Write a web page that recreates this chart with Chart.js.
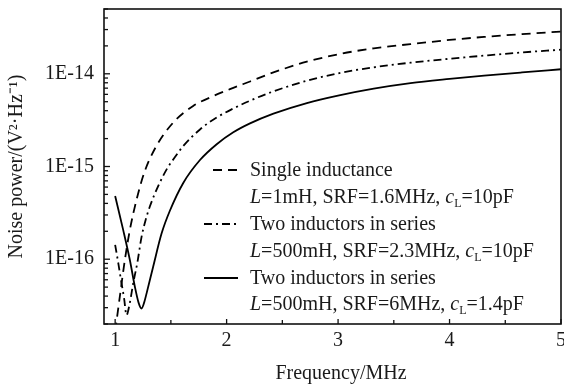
<!DOCTYPE html>
<html>
<head>
<meta charset="utf-8">
<script src="https://cdn.jsdelivr.net/npm/chart.js@4.4.1/dist/chart.umd.min.js"></script>
<style>
  html, body { margin: 0; padding: 0; background: #fff; overflow: hidden; }
  #wrap { width: 564px; height: 385px; position: relative; }
</style>
</head>
<body>
<div id="wrap"><canvas id="c"></canvas></div>
<script>
// ---------- data ----------
const freqSingle  = [1.0, 1.042, 1.087, 1.132, 1.192, 1.26, 1.36, 1.52, 1.70, 1.88, 2.06, 2.21, 2.42, 2.72, 3.02, 3.32, 3.65, 4.0, 4.31, 4.65, 5.0];
const noiseSingle = [1.66e-17, 3.94e-17, 9.8e-17, 2.07e-16, 4.38e-16, 8.5e-16, 1.585e-15, 2.97e-15, 4.5e-15, 5.75e-15, 7.05e-15, 8.26e-15, 1.035e-14, 1.35e-14, 1.64e-14, 1.884e-14, 2.09e-14, 2.317e-14, 2.5e-14, 2.68e-14, 2.85e-14];

const freqSeries23  = [1.0, 1.03, 1.05, 1.08, 1.102, 1.13, 1.162, 1.2, 1.237, 1.275, 1.312, 1.385, 1.462, 1.54, 1.611, 1.761, 1.911, 2.06, 2.21, 2.42, 2.72, 3.02, 3.32, 3.65, 4.0, 4.31, 4.65, 5.0];
const noiseSeries23 = [1.43e-16, 8.8e-17, 6.2e-17, 3.8e-17, 2.5e-17, 3.3e-17, 5.5e-17, 9.3e-17, 1.74e-16, 2.69e-16, 3.72e-16, 6.1e-16, 9.3e-16, 1.28e-15, 1.66e-15, 2.51e-15, 3.38e-15, 4.22e-15, 5.13e-15, 6.46e-15, 8.41e-15, 1.023e-14, 1.175e-14, 1.318e-14, 1.452e-14, 1.57e-14, 1.70e-14, 1.82e-14];

const freqSeries6  = [1.0, 1.072, 1.132, 1.177, 1.21, 1.237, 1.26, 1.282, 1.341, 1.417, 1.49, 1.611, 1.761, 1.911, 2.06, 2.21, 2.42, 2.72, 3.02, 3.32, 3.65, 4.0, 4.31, 4.65, 5.0];
const noiseSeries6 = [4.8e-16, 2.07e-16, 9.8e-17, 5.05e-17, 3.4e-17, 2.94e-17, 3.4e-17, 4.28e-17, 8.3e-17, 1.9e-16, 3.31e-16, 6.65e-16, 1.175e-15, 1.74e-15, 2.34e-15, 2.92e-15, 3.72e-15, 4.84e-15, 5.89e-15, 6.92e-15, 7.94e-15, 8.81e-15, 9.55e-15, 1.035e-14, 1.12e-14];

const xTickValues = [1, 1.5, 2, 2.5, 3, 3.5, 4, 4.5, 5];
const xTickLabels = ['1', '', '2', '', '3', '', '4', '', '5'];
const yMajorTicks = [1e-16, 1e-15, 1e-14];
const yTickLabels = ['1E-16', '1E-15', '1E-14'];

const xTitle = 'Frequency/MHz';
const yTitle = 'Noise power/(V\u00B2\u00B7Hz\u207B\u00B9)';

const legendNames  = ['Single inductance', 'Two inductors in series', 'Two inductors in series'];
const legendL      = ['1mH', '500mH', '500mH'];
const legendSRF    = ['1.6MHz', '2.3MHz', '6MHz'];
const legendC      = ['10pF', '10pF', '1.4pF'];

// ---------- derived ----------
const yTickValues = [];
for (let e = -17; e <= -14; e++) {
  for (let m = 1; m <= 9; m++) {
    const v = parseFloat(m + 'e' + e);
    if (v >= 2e-17 && v <= 5e-14) yTickValues.push(v);
  }
}

const FONT = '"Liberation Serif", "Times New Roman", serif';
const TXT = '#1a1a1a';
const DASH = [9, 6];
const DASHDOT = [8, 4, 2, 4];

const toPts = (xs, ys) => xs.map((x, i) => ({ x: x, y: ys[i] }));

function drawRich(ctx, x, y, parts) {
  let cx = x;
  parts.forEach(p => {
    const [t, st] = p;
    if (st === 'i') ctx.font = 'italic 20px ' + FONT;
    else if (st === 'sub') ctx.font = '12px ' + FONT;
    else ctx.font = '20px ' + FONT;
    ctx.fillText(t, cx, st === 'sub' ? y + 4 : y);
    cx += ctx.measureText(t).width;
  });
}

const framePlugin = {
  id: 'frame',
  afterDraw(chart) {
    const { ctx, chartArea: a, scales } = chart;
    const xs = scales.x, ys = scales.y;
    ctx.save();
    ctx.strokeStyle = '#111';
    ctx.lineWidth = 1.6;
    ctx.setLineDash([]);
    ctx.strokeRect(a.left, a.top, a.right - a.left, a.bottom - a.top);
    ctx.lineWidth = 1.3;
    xTickValues.forEach(v => {
      const px = xs.getPixelForValue(v);
      const len = Number.isInteger(v) ? 5 : 4;
      ctx.beginPath(); ctx.moveTo(px, a.bottom); ctx.lineTo(px, a.bottom - len); ctx.stroke();
    });
    yTickValues.forEach(v => {
      const py = ys.getPixelForValue(v);
      const len = yMajorTicks.includes(v) ? 6 : 4;
      ctx.beginPath(); ctx.moveTo(a.left, py); ctx.lineTo(a.left + len, py); ctx.stroke();
    });

    // x-axis title
    ctx.fillStyle = TXT;
    ctx.font = '20px ' + FONT;
    ctx.textAlign = 'center';
    ctx.textBaseline = 'alphabetic';
    ctx.fillText(xTitle, 341, 379);

    // legend
    const styles = [DASH, DASHDOT, []];
    const baselines = [176, 203, 230, 257, 284, 310];
    ctx.textAlign = 'left';
    for (let i = 0; i < 3; i++) {
      const b1 = baselines[2 * i], b2 = baselines[2 * i + 1];
      ctx.strokeStyle = '#000';
      ctx.lineWidth = 1.8;
      ctx.setLineDash(styles[i]);
      ctx.beginPath();
      ctx.moveTo(i === 0 ? 213 : 204, b1 - 6);
      ctx.lineTo(238, b1 - 6);
      ctx.stroke();
      ctx.setLineDash([]);
      ctx.fillStyle = TXT;
      ctx.font = '20px ' + FONT;
      ctx.fillText(legendNames[i], 250, b1);
      drawRich(ctx, 250, b2, [
        ['L', 'i'], ['=' + legendL[i] + ', SRF=' + legendSRF[i] + ', ', 'n'],
        ['c', 'i'], ['L', 'sub'], ['=' + legendC[i], 'n']
      ]);
    }
    ctx.restore();
  }
};

Chart.defaults.font.family = FONT;
Chart.defaults.color = TXT;

new Chart(document.getElementById('c'), {
  type: 'line',
  data: {
    datasets: [
      { label: legendNames[0], data: toPts(freqSingle, noiseSingle), borderDash: DASH },
      { label: legendNames[1], data: toPts(freqSeries23, noiseSeries23), borderDash: DASHDOT },
      { label: legendNames[2], data: toPts(freqSeries6, noiseSeries6), borderDash: [] }
    ].map(d => Object.assign({
      borderColor: '#000', borderWidth: 1.8, pointRadius: 0, fill: false,
      cubicInterpolationMode: 'monotone'
    }, d))
  },
  options: {
    responsive: true,
    maintainAspectRatio: false,
    devicePixelRatio: 1,
    animation: false,
    events: [],
    layout: { padding: { top: 9, right: 3, left: 0, bottom: 0 } },
    plugins: { legend: { display: false }, tooltip: { enabled: false } },
    scales: {
      x: {
        type: 'linear', min: 0.9, max: 5,
        grid: { display: false, drawTicks: false },
        border: { display: false },
        afterBuildTicks: s => { s.ticks = xTickValues.map(v => ({ value: v })); },
        ticks: {
          autoSkip: false, maxRotation: 0, padding: 5, color: TXT,
          font: { family: FONT, size: 20 },
          callback: v => { const i = xTickValues.indexOf(v); return i >= 0 ? xTickLabels[i] : ''; }
        },
        afterFit: s => { s.height = 61; s.paddingLeft = 0; s.paddingRight = 0; }
      },
      y: {
        type: 'logarithmic', min: 2e-17, max: 5e-14,
        grid: { display: false, drawTicks: false },
        border: { display: false },
        afterBuildTicks: s => { s.ticks = yTickValues.map(v => ({ value: v })); },
        ticks: {
          autoSkip: false, padding: 10, color: TXT,
          font: { family: FONT, size: 20 },
          callback: v => { const i = yMajorTicks.indexOf(v); return i >= 0 ? yTickLabels[i] : ''; }
        },
        title: {
          display: true, text: yTitle, color: TXT,
          font: { family: FONT, size: 20 }, padding: { top: 5, bottom: 0 }
        },
        afterFit: s => { s.width = 104; s.paddingTop = 0; s.paddingBottom = 0; }
      }
    }
  },
  plugins: [framePlugin]
});
</script>
</body>
</html>
